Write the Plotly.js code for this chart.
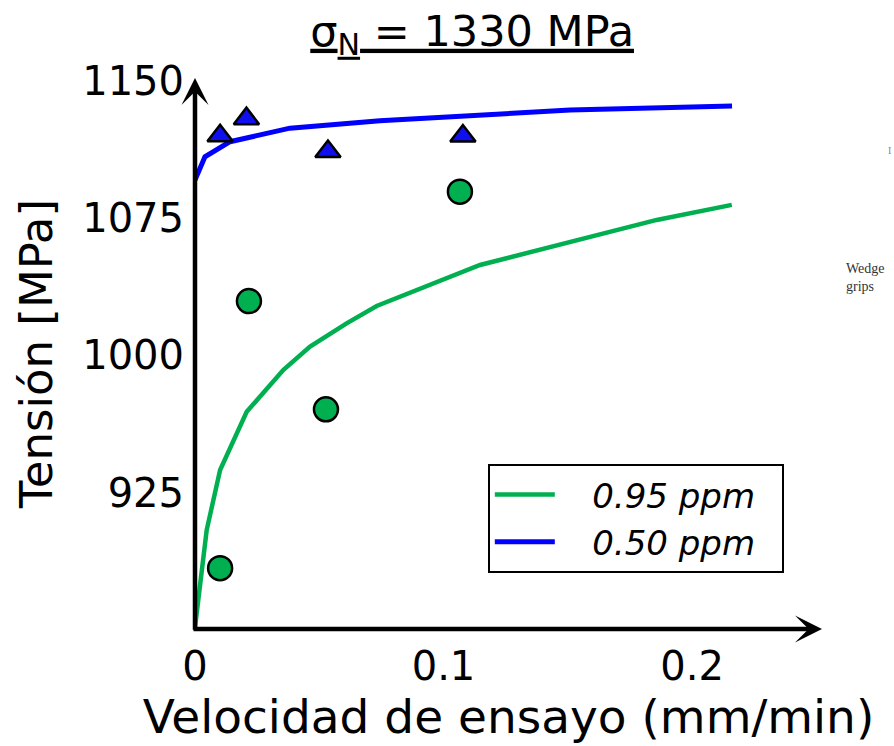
<!DOCTYPE html>
<html>
<head>
<meta charset="utf-8">
<script src="https://cdn.plot.ly/plotly-3.0.1.min.js"></script>
<style>html,body{margin:0;padding:0;background:#fff;}</style>
</head>
<body>
<div id="chart" style="width:894px;height:746px;"></div>
<script>
// Curves (model)
const greenLineX = [0, 0.0047, 0.0101, 0.0208, 0.0355, 0.0463, 0.061, 0.0731, 0.1147, 0.1522, 0.1858, 0.216];
const greenLineY = [851.6, 904.6, 937.4, 969.2, 992.0, 1004.8, 1017.5, 1027.0, 1049.4, 1062.1, 1074.0, 1082.2];
const blueLineX = [0, 0.004, 0.0141, 0.0382, 0.0744, 0.1227, 0.1509, 0.2161];
const blueLineY = [1095.8, 1108.5, 1116.7, 1124.1, 1128.2, 1132.2, 1134.0, 1136.2];
// Experimental points
const greenPtsX = [0.0101, 0.0217, 0.0527, 0.1066];
const greenPtsY = [883.8, 1029.7, 970.6, 1089.4];
const bluePtsX = [0.0101, 0.0207, 0.0535, 0.1078];
const bluePtsY = [1120.0, 1129.3, 1111.3, 1119.8];
// Labels
const seriesNames = ["0.95 ppm", "0.50 ppm"];
const xTickVals = [0, 0.1, 0.2];
const xTickText = ["0", "0.1", "0.2"];
const yTickVals = [925, 1000, 1075, 1150];
const yTickText = ["925", "1000", "1075", "1150"];
const xRange = [0, 0.2523];
const yRange = [850.6, 1151.5];

const GREEN = "#00b050";
const BLUE = "#0000ff";
const FONT = "DejaVu Sans, sans-serif";
const NBL = "\u00a0\u00a0\u00a0";
const NBR = "\u00a0\u00a0";

const traces = [
  {x: greenLineX, y: greenLineY, mode: "lines", name: NBL + seriesNames[0] + NBR,
   line: {color: GREEN, width: 4.5}, cliponaxis: false},
  {x: blueLineX, y: blueLineY, mode: "lines", name: NBL + seriesNames[1] + NBR,
   line: {color: BLUE, width: 5}, cliponaxis: false},
  {x: greenPtsX, y: greenPtsY, mode: "markers", showlegend: false,
   marker: {symbol: "circle", size: 24, color: GREEN, line: {color: "#000", width: 2.5}}, cliponaxis: false},
  {x: bluePtsX, y: bluePtsY, mode: "markers", showlegend: false,
   marker: {symbol: "triangle-up", size: 22, color: "#1010ee", line: {color: "#000", width: 2.5}}, cliponaxis: false}
];

const layout = {
  width: 894, height: 746,
  margin: {l: 195, r: 72, t: 78, b: 117},
  paper_bgcolor: "#fff", plot_bgcolor: "#fff",
  font: {family: FONT, color: "#000", size: 40},
  showlegend: true,
  title: {text: "<u>σ<sub>N</sub> = 1330 MPa</u>", font: {family: FONT, size: 43, color: "#000"},
          x: 0.442, xanchor: "center", xref: "paper", y: 0.979, yanchor: "top"},
  xaxis: {range: xRange, autorange: false, showgrid: false, zeroline: false, showline: false,
          tickvals: xTickVals, ticktext: xTickText, ticks: "", ticklabelstandoff: 10,
          tickfont: {family: FONT, size: 40},
          title: {text: "Velocidad de ensayo (mm/min)", font: {family: FONT, size: 47}, standoff: 0}},
  yaxis: {range: yRange, autorange: false, showgrid: false, zeroline: false, showline: false,
          tickvals: yTickVals, ticktext: yTickText, ticks: "", ticklabelstandoff: 10,
          tickfont: {family: FONT, size: 40},
          title: {text: "Tensión [MPa]", font: {family: FONT, size: 45}, standoff: 15}},
  legend: {x: 0.467, y: 0.2995, xanchor: "left", yanchor: "top", bgcolor: "#fff",
           bordercolor: "#000", borderwidth: 2, itemwidth: 60,
           font: {family: FONT, size: 34, style: "italic", color: "#000"}},
  annotations: [
    {xref: "x", yref: "y", axref: "x", ayref: "y", x: xRange[1], y: yRange[0], ax: -0.0012, ay: yRange[0],
     text: "", showarrow: true, arrowhead: 3, arrowsize: 1, arrowwidth: 4.5, arrowcolor: "#000", standoff: 0},
    {xref: "x", yref: "y", axref: "x", ayref: "y", x: 0, y: yRange[1], ax: 0, ay: yRange[0] - 1.2,
     text: "", showarrow: true, arrowhead: 3, arrowsize: 1, arrowwidth: 4.5, arrowcolor: "#000", standoff: 0},
    {xref: "paper", yref: "paper", x: 1.035, y: 0.672, xanchor: "left", yanchor: "top", showarrow: false, align: "left",
     text: "Wedge<br>grips", font: {family: "Liberation Serif, serif", size: 14, color: "#333"}},
    {xref: "paper", yref: "paper", x: 1.108, y: 0.869, xanchor: "center", yanchor: "middle", showarrow: false,
     text: "I", font: {family: "Liberation Serif, serif", size: 10, color: "#888"}}
  ]
};

Plotly.newPlot("chart", traces, layout, {displayModeBar: false, staticPlot: true});
</script>
</body>
</html>
